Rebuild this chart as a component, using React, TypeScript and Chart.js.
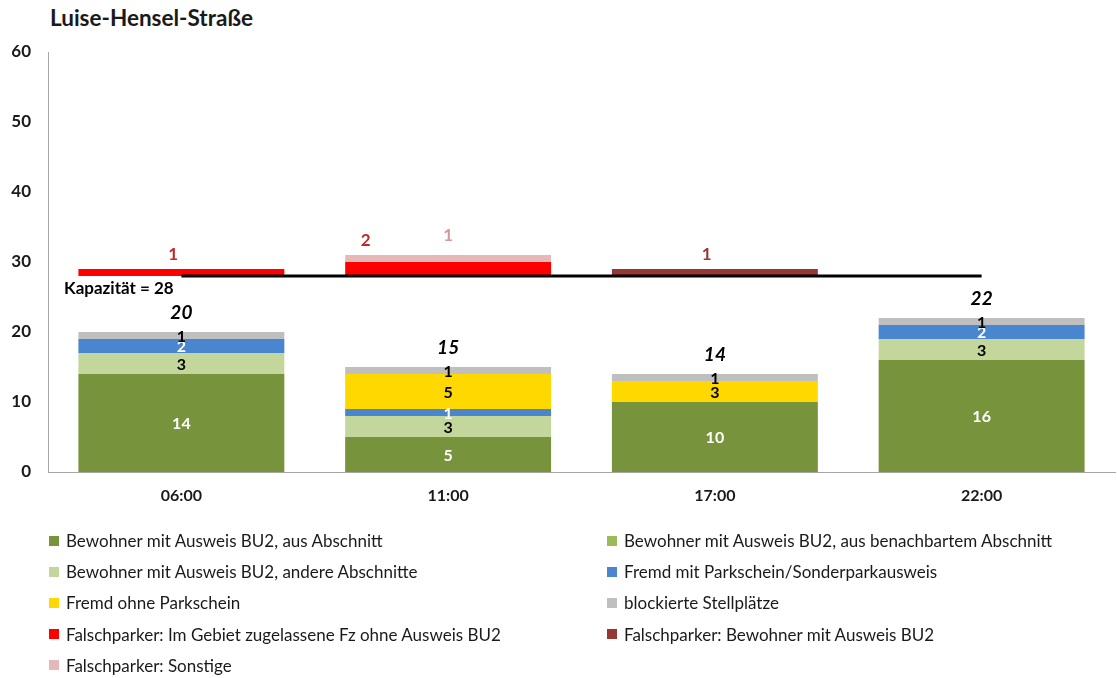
import React, { useEffect, useRef } from 'react';
import { Chart, registerables } from 'chart.js';

Chart.register(...registerables);

const title = 'Luise-Hensel-Straße';
const categories = ['06:00', '11:00', '17:00', '22:00'];
const bewohnerAbschnitt = [14, 5, 10, 16];
const bewohnerBenachbart = [0, 0, 0, 0];
const bewohnerAndere = [3, 3, 0, 3];
const fremdMitParkschein = [2, 1, 0, 2];
const fremdOhneParkschein = [0, 5, 3, 0];
const blockiert = [1, 1, 1, 1];
const falschGebiet = [1, 2, 0, 0];
const falschBewohner = [0, 0, 1, 0];
const falschSonstige = [0, 1, 0, 0];
const kapazitaet = 28;
const kapazitaetLabel = 'Kapazität = 28';
const yMin = 0;
const yMax = 60;
const yStep = 10;

const FONT = 'Lato, "Open Sans", sans-serif';

type Series = { label: string; data: number[]; color: string; text: string; kind: 'base' | 'falsch' };

const baseSeries: Series[] = [
  { label: 'Bewohner mit Ausweis BU2, aus Abschnitt', data: bewohnerAbschnitt, color: '#77933C', text: '#FFFFFF', kind: 'base' },
  { label: 'Bewohner mit Ausweis BU2, aus benachbartem Abschnitt', data: bewohnerBenachbart, color: '#9BBB59', text: '#000000', kind: 'base' },
  { label: 'Bewohner mit Ausweis BU2, andere Abschnitte', data: bewohnerAndere, color: '#C3D69B', text: '#000000', kind: 'base' },
  { label: 'Fremd mit Parkschein/Sonderparkausweis', data: fremdMitParkschein, color: '#4A86D0', text: '#FFFFFF', kind: 'base' },
  { label: 'Fremd ohne Parkschein', data: fremdOhneParkschein, color: '#FFD800', text: '#000000', kind: 'base' },
  { label: 'blockierte Stellplätze', data: blockiert, color: '#BFBFBF', text: '#000000', kind: 'base' },
];
const falschSeries: Series[] = [
  { label: 'Falschparker: Im Gebiet zugelassene Fz ohne Ausweis BU2', data: falschGebiet, color: '#FF0000', text: '#C0282B', kind: 'falsch' },
  { label: 'Falschparker: Bewohner mit Ausweis BU2', data: falschBewohner, color: '#953735', text: '#953735', kind: 'falsch' },
  { label: 'Falschparker: Sonstige', data: falschSonstige, color: '#E6B9B8', text: '#D49A9A', kind: 'falsch' },
];
const allSeries = [...baseSeries, ...falschSeries];

const totals = categories.map((_, j) => baseSeries.reduce((s, se) => s + se.data[j], 0));
const falschTotals = categories.map((_, j) => falschSeries.reduce((s, se) => s + se.data[j], 0));
const spacer = categories.map((_, j) => (falschTotals[j] > 0 ? kapazitaet - totals[j] : 0));

const labelPlugin = {
  id: 'customLabels',
  afterDatasetsDraw(chart: any) {
    const ctx = chart.ctx as CanvasRenderingContext2D;
    const yScale = chart.scales.y;
    ctx.save();
    ctx.textAlign = 'center';
    ctx.textBaseline = 'middle';
    baseSeries.forEach((se, i) => {
      const meta = chart.getDatasetMeta(i);
      se.data.forEach((v, j) => {
        if (!v) return;
        const el = meta.data[j];
        ctx.font = `bold 16px ${FONT}`;
        ctx.fillStyle = se.text;
        ctx.fillText(String(v), el.x, (el.y + el.base) / 2 + 1);
      });
    });
    totals.forEach((t, j) => {
      const el = chart.getDatasetMeta(0).data[j];
      ctx.font = `italic bold 19px ${FONT}`;
      ctx.fillStyle = '#000000';
      ctx.fillText(String(t), el.x, yScale.getPixelForValue(t) - 19);
    });
    const off = baseSeries.length + 1;
    categories.forEach((_, j) => {
      const items: { v: number; se: Series; el: any }[] = [];
      falschSeries.forEach((se, k) => {
        if (se.data[j] > 0) items.push({ v: se.data[j], se, el: chart.getDatasetMeta(off + k).data[j] });
      });
      if (!items.length) return;
      const top = yScale.getPixelForValue(kapazitaet + falschTotals[j]);
      const n = items.length;
      items.forEach((it, k) => {
        const dx = (k - (n - 1)) * 0.4 * it.el.width - (n === 1 ? 0.04 * it.el.width : 0);
        ctx.font = `bold 17px ${FONT}`;
        ctx.fillStyle = it.se.text;
        ctx.fillText(String(it.v), it.el.x + dx, top - 14 - k * 5);
      });
    });
    ctx.textAlign = 'left';
    ctx.font = `bold 17px ${FONT}`;
    ctx.fillStyle = '#000000';
    ctx.fillText(kapazitaetLabel, chart.chartArea.left + 16, yScale.getPixelForValue(kapazitaet) + 13);
    ctx.restore();
  },
};

export default function App() {
  const ref = useRef<HTMLCanvasElement>(null);
  useEffect(() => {
    if (!ref.current) return;
    const datasets: any[] = [];
    baseSeries.forEach((se) =>
      datasets.push({ type: 'bar', label: se.label, data: se.data, backgroundColor: se.color, stack: 'main', order: 1 })
    );
    datasets.push({ type: 'bar', label: '_spacer', data: spacer, backgroundColor: 'rgba(0,0,0,0)', stack: 'main', order: 1 });
    falschSeries.forEach((se) =>
      datasets.push({ type: 'bar', label: se.label, data: se.data, backgroundColor: se.color, stack: 'main', order: 1 })
    );
    datasets.push({
      type: 'line',
      label: kapazitaetLabel,
      data: categories.map(() => kapazitaet),
      borderColor: '#000000',
      borderWidth: 3,
      pointRadius: 0,
      stack: 'cap',
      order: 0,
    });
    const chart = new Chart(ref.current, {
      type: 'bar',
      data: { labels: categories, datasets },
      options: {
        animation: false,
        responsive: false,
        devicePixelRatio: 1,
        events: [],
        layout: { padding: { top: 52, left: 0, right: 2, bottom: 8 } },
        datasets: { bar: { categoryPercentage: 1, barPercentage: 0.772 } },
        plugins: { legend: { display: false }, tooltip: { enabled: false }, title: { display: false } },
        scales: {
          x: {
            stacked: true,
            grid: { display: false, drawTicks: false },
            border: { display: true, color: '#A6A6A6', width: 1 },
            ticks: { color: '#1a1a1a', font: { family: FONT, size: 16, weight: 'bold' }, padding: 14 },
            afterFit: (s: any) => { s.height = 40; },
          },
          y: {
            stacked: true,
            min: yMin,
            max: yMax,
            grid: { display: false, drawTicks: false },
            border: { display: true, color: '#A6A6A6', width: 1 },
            ticks: { stepSize: yStep, color: '#1a1a1a', font: { family: FONT, size: 17, weight: 'bold' }, padding: 17 },
            afterFit: (s: any) => { s.width = 48; },
          },
        },
      },
      plugins: [labelPlugin],
    } as any);
    return () => chart.destroy();
  }, []);

  const rows: Series[][] = [];
  for (let i = 0; i < allSeries.length; i += 2) rows.push(allSeries.slice(i, i + 2));

  return (
    <div style={{ position: 'fixed', left: 0, top: 0, width: 1117, height: 678, background: '#fff', fontFamily: FONT }}>
      <div style={{ position: 'absolute', left: 50, top: 4, fontSize: 22.5, fontWeight: 'bold', color: '#1a1a1a' }}>{title}</div>
      <canvas ref={ref} width={1117} height={520} style={{ position: 'absolute', left: 0, top: 0 }} />
      <div style={{ position: 'absolute', left: 49, top: 525 }}>
        {rows.map((row, r) => (
          <div key={r} style={{ display: 'flex', height: 31.2, alignItems: 'center' }}>
            {row.map((se, c) => (
              <div key={c} style={{ width: 558, display: 'flex', alignItems: 'center', fontSize: 17, color: '#1a1a1a' }}>
                <span style={{ display: 'inline-block', width: 10, height: 10, background: se.color, marginRight: 7 }} />
                <span>{se.label}</span>
              </div>
            ))}
          </div>
        ))}
      </div>
    </div>
  );
}
